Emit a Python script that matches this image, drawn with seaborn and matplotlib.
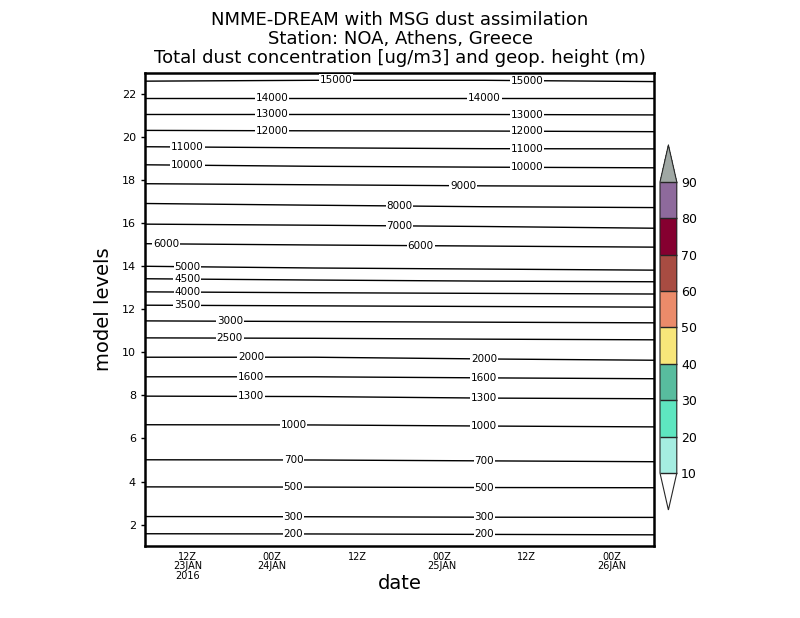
import numpy as np
import pandas as pd
import matplotlib
matplotlib.use("Agg")
import matplotlib.pyplot as plt
import matplotlib.colors as mcolors
import matplotlib.cm as cm
import seaborn as sns

# times where the contour positions were read (every 24 h)
times = pd.to_datetime(["2016-01-23 06:00", "2016-01-24 06:00",
                        "2016-01-25 06:00", "2016-01-26 06:00"])

# geop. height contours (m) and their model-level position at each time
contour_values = [15000, 14000, 13000, 12000, 11000, 10000, 9000, 8000, 7000, 6000,
                  5000, 4500, 4000, 3500, 3000, 2500, 2000, 1600, 1300, 1000,
                  700, 500, 300, 200]
contour_levels = [
    [22.62, 22.66, 22.66, 22.60],
    [21.85, 21.85, 21.85, 21.85],
    [21.07, 21.07, 21.07, 21.05],
    [20.33, 20.31, 20.30, 20.27],
    [19.57, 19.52, 19.48, 19.47],
    [18.73, 18.66, 18.62, 18.59],
    [17.85, 17.80, 17.75, 17.72],
    [16.93, 16.85, 16.78, 16.74],
    [15.97, 15.92, 15.86, 15.78],
    [15.06, 15.00, 14.95, 14.90],
    [14.01, 13.93, 13.88, 13.83],
    [13.43, 13.37, 13.32, 13.29],
    [12.82, 12.78, 12.75, 12.72],
    [12.20, 12.17, 12.14, 12.11],
    [11.47, 11.44, 11.41, 11.38],
    [10.68, 10.66, 10.62, 10.59],
    [9.78, 9.78, 9.70, 9.64],
    [8.87, 8.87, 8.82, 8.78],
    [7.97, 7.95, 7.88, 7.85],
    [6.64, 6.63, 6.58, 6.54],
    [5.01, 5.00, 4.96, 4.92],
    [3.75, 3.74, 3.72, 3.71],
    [2.37, 2.36, 2.34, 2.33],
    [1.57, 1.56, 1.54, 1.52],
]
# where each contour carries its labels
label_times = [
    ["2016-01-24 09:00", "2016-01-25 12:00"],
    ["2016-01-24 00:00", "2016-01-25 06:00"],
    ["2016-01-24 00:00", "2016-01-25 12:00"],
    ["2016-01-24 00:00", "2016-01-25 12:00"],
    ["2016-01-23 12:00", "2016-01-25 12:00"],
    ["2016-01-23 12:00", "2016-01-25 12:00"],
    ["2016-01-25 03:00"],
    ["2016-01-24 18:00"],
    ["2016-01-24 18:00"],
    ["2016-01-23 09:00", "2016-01-24 21:00"],
    ["2016-01-23 12:00"],
    ["2016-01-23 12:00"],
    ["2016-01-23 12:00"],
    ["2016-01-23 12:00"],
    ["2016-01-23 18:00"],
    ["2016-01-23 18:00"],
    ["2016-01-23 21:00", "2016-01-25 06:00"],
    ["2016-01-23 21:00", "2016-01-25 06:00"],
    ["2016-01-23 21:00", "2016-01-25 06:00"],
    ["2016-01-24 03:00", "2016-01-25 06:00"],
    ["2016-01-24 03:00", "2016-01-25 06:00"],
    ["2016-01-24 03:00", "2016-01-25 06:00"],
    ["2016-01-24 03:00", "2016-01-25 06:00"],
    ["2016-01-24 03:00", "2016-01-25 06:00"],
]

tick_times = pd.to_datetime(["2016-01-23 12:00", "2016-01-24 00:00", "2016-01-24 12:00",
                             "2016-01-25 00:00", "2016-01-25 12:00", "2016-01-26 00:00"])
tick_labels = ["12Z\n23JAN\n2016", "00Z\n24JAN", "12Z", "00Z\n25JAN", "12Z", "00Z\n26JAN"]

dust_bounds = [10, 20, 30, 40, 50, 60, 70, 80, 90]
dust_colors = ["#a5ede1", "#5ee6c0", "#58bc9e", "#f8e67a", "#eb8b6a",
               "#a84c42", "#850030", "#8e6a9c"]
dust_over = "#a0a8a4"

sns.set_style("white")
plt.rcParams["font.family"] = ["DejaVu Sans"]
plt.rcParams["text.color"] = "black"
plt.rcParams["axes.labelcolor"] = "black"
plt.rcParams["xtick.color"] = "black"
plt.rcParams["ytick.color"] = "black"

fig = plt.figure(figsize=(8, 6.18), dpi=100)
ax = fig.add_axes([0.18125, 0.1165, 0.63625, 0.7654])

x_num = matplotlib.dates.date2num(times)
for val, lev, lts in zip(contour_values, contour_levels, label_times):
    sns.lineplot(x=times, y=lev, color="black", linewidth=1.0, ax=ax, zorder=2)
    for lt in lts:
        t = pd.Timestamp(lt)
        yv = np.interp(matplotlib.dates.date2num(t), x_num, lev)
        ax.text(t, yv, str(val), ha="center", va="center", fontsize=7.5, zorder=3,
                color="black", bbox=dict(facecolor="white", edgecolor="none", pad=0.6))

ax.set_xlim(times[0], times[-1])
ax.set_ylim(1, 23)
ax.set_yticks(range(2, 23, 2))
ax.set_xticks(tick_times)
ax.set_xticklabels(tick_labels, fontsize=7, linespacing=0.95)
ax.tick_params(axis="y", labelsize=8, length=3, width=1, direction="out", left=True)
ax.tick_params(axis="x", length=0, pad=4)
for sp in ax.spines.values():
    sp.set_linewidth(1.8)
    sp.set_color("black")
ax.set_xlabel("date", fontsize=14, labelpad=-5)
ax.set_ylabel("model levels", fontsize=14, labelpad=6)

fig.text(0.5, 0.968, "NMME-DREAM with MSG dust assimilation", ha="center", va="center", fontsize=13)
fig.text(0.5, 0.937, "Station: NOA, Athens, Greece", ha="center", va="center", fontsize=13)
fig.text(0.5, 0.906, "Total dust concentration [ug/m3] and geop. height (m)",
         ha="center", va="center", fontsize=13)

cmap = mcolors.ListedColormap(dust_colors)
cmap.set_over(dust_over)
cmap.set_under("white")
norm = mcolors.BoundaryNorm(dust_bounds, cmap.N)
cax = fig.add_axes([0.825, 0.1748, 0.021, 0.5906])
cb = fig.colorbar(cm.ScalarMappable(norm=norm, cmap=cmap), cax=cax, extend="both",
                  extendfrac=0.127, drawedges=True, ticks=dust_bounds)
cb.outline.set_linewidth(0.8)
cb.dividers.set_linewidth(1.0)
cb.ax.tick_params(length=0, labelsize=9, pad=3)

fig.savefig("out.png", dpi=100, facecolor="white")
